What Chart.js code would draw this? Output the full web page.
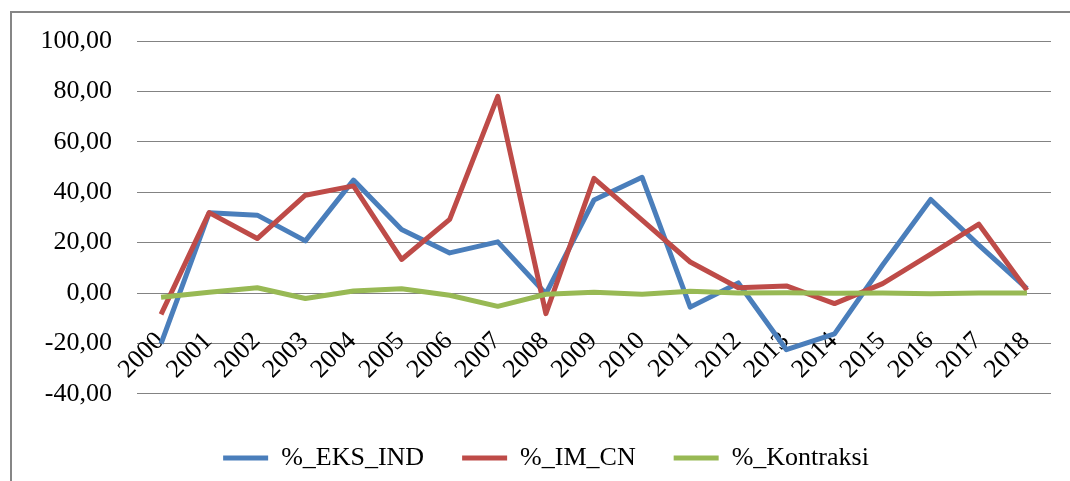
<!DOCTYPE html>
<html>
<head>
  <meta charset="utf-8">
  <title>%_EKS_IND, %_IM_CN, %_Kontraksi</title>
  <script src="https://cdn.jsdelivr.net/npm/chart.js"></script>
  <style>
    body { margin: 0; background: #fff; }
    #box {
      position: absolute; left: 10px; top: 11px;
      width: 1058px; height: 468px;
      border-left: 2px solid #868686; border-top: 2px solid #868686;
    }
    canvas { display: block; }
  </style>
</head>
<body>
  <div id="box"><canvas id="lineChart" width="1058" height="468"></canvas></div>

  <script>
    // data
    const years = ['2000', '2001', '2002', '2003', '2004', '2005', '2006', '2007', '2008', '2009',
                   '2010', '2011', '2012', '2013', '2014', '2015', '2016', '2017', '2018'];
    const eksInd = [-20.1, 31.8, 30.9, 20.7, 44.8, 25.2, 15.9, 20.3, -0.3, 36.9,
                    45.9, -5.6, 4.0, -22.5, -16.2, 11.1, 37.1, 19.0, 1.7];
    const imCn = [-8.5, 31.9, 21.6, 38.8, 42.5, 13.3, 29.2, 78.0, -8.2, 45.5,
                  28.9, 12.3, 2.1, 2.8, -4.2, 3.7, 15.4, 27.3, 1.1];
    const kontraksi = [-1.7, 0.3, 2.1, -2.2, 0.8, 1.7, -0.9, -5.3, -0.5, 0.3,
                       -0.5, 0.7, 0.0, 0.1, -0.1, 0.0, -0.3, 0.0, 0.0];

    const font = { family: '"Liberation Serif", "Times New Roman", serif', size: 26 };

    function line(label, data, color, order) {
      return {
        label: label,
        data: data,
        borderColor: color,
        backgroundColor: color,
        borderWidth: 5,
        borderJoinStyle: 'round',
        pointRadius: 0,
        pointHoverRadius: 0,
        tension: 0,
        order: order
      };
    }

    const ctx = document.getElementById('lineChart').getContext('2d');
    new Chart(ctx, {
      type: 'line',
      data: {
        labels: years,
        datasets: [
          line('%_EKS_IND', eksInd, '#4A7EBB', 2),
          line('%_IM_CN', imCn, '#BE4B48', 1),
          line('%_Kontraksi', kontraksi, '#98B954', 0)
        ]
      },
      options: {
        responsive: false,
        animation: false,
        layout: { padding: { left: 29, right: 19, top: 28, bottom: 0 } },
        scales: {
          x: {
            // category axis crosses at 0 like in Excel
            position: { y: 0 },
            offset: true,
            grid: { display: false },
            border: { display: false },
            ticks: {
              font: font, color: '#000',
              minRotation: 45, maxRotation: 45,
              autoSkip: false, padding: 25, labelOffset: -1
            },
            afterFit(scale) {
              scale.paddingLeft = 0;
              scale.paddingRight = 0;
            }
          },
          y: {
            min: -40, max: 100,
            grid: { color: '#838383', lineWidth: 1, drawTicks: false },
            border: { display: false },
            ticks: {
              stepSize: 20, padding: 25,
              font: font, color: '#000',
              callback: v => v.toFixed(2).replace('.', ',')
            },
            afterFit(scale) {
              scale.width = 96;
              scale.paddingTop = 10;
              scale.paddingBottom = 10;
            }
          }
        },
        plugins: {
          legend: {
            position: 'bottom',
            title: { display: true, text: '', padding: 0, font: { size: 11 } },
            labels: {
              font: font, color: '#000',
              boxWidth: 45, boxHeight: 5, padding: 38,
              sort: (a, b) => a.datasetIndex - b.datasetIndex,
              generateLabels(chart) {
                const items = Chart.defaults.plugins.legend.labels.generateLabels(chart);
                items.forEach(it => { it.fillStyle = it.strokeStyle; it.lineWidth = 0; });
                return items;
              }
            }
          },
          tooltip: { enabled: false }
        }
      }
    });
  </script>
</body>
</html>
